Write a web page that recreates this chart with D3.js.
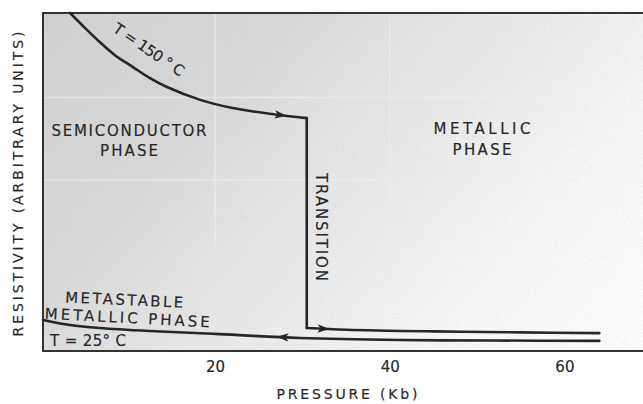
<!DOCTYPE html>
<html><head><meta charset="utf-8">
<script src="https://cdn.jsdelivr.net/npm/d3@7"></script>
<style>
html,body{margin:0;padding:0;background:#fff;}
svg{display:block;}
text{font-family:"DejaVu Sans","Open Sans",sans-serif;fill:#262626;stroke:#262626;stroke-width:0.15px;}
</style></head>
<body><div id="chart"></div>
<script>
// ---- data (pressure in Kb, resistivity in arbitrary units 0..100) ----
const hotP = [3.4, 5.1, 6.8, 8.5, 10.6, 12.5, 14.5, 18.3, 22.0, 27.4, 30.5];
const hotR = [100, 95.6, 91.4, 87.6, 84.0, 80.8, 78.1, 74.3, 71.9, 69.8, 68.9];
const transP = [30.5, 30.5];
const transR = [68.9, 6.8];
const metUpP = [30.5, 35, 45, 55, 64];
const metUpR = [6.8, 6.3, 5.8, 5.5, 5.3];
const metDownP = [0.3, 3.4, 6.8, 12.5, 20.5, 29.7, 41.1, 52, 64];
const metDownR = [9.2, 7.7, 6.8, 5.9, 5.0, 3.85, 3.25, 3.1, 3.0];
const arrowP = [28.2, 33.1, 27.05];
const arrowDir = [1, 1, -1];
const xTicks = [20, 40, 60];
const gridP = [20, 40];
const gridR = [75, 50.5];

const W = 643, H = 404;
const m = {left: 43, top: 13, right: 0, bottom: 53};
const svg = d3.select("#chart").append("svg").attr("width", W).attr("height", H);

const x = d3.scaleLinear().domain([0.3, 69]).range([m.left, W - m.right]);
const y = d3.scaleLinear().domain([0, 100]).range([H - m.bottom, m.top]);

const x0 = x.range()[0], x1 = x.range()[1], y0 = y.range()[1], y1 = y.range()[0];

const defs = svg.append("defs");
const grad = defs.append("linearGradient").attr("id", "bg").attr("gradientUnits", "userSpaceOnUse")
  .attr("x1", x0).attr("y1", y0).attr("x2", x0 + 470).attr("y2", y0 + 420);
[[0, "#d2d2d2"], [0.3, "#d9d9d9"], [0.55, "#e9e9e9"], [0.8, "#f7f7f7"], [1, "#fdfdfd"]]
  .forEach(([o, c]) => grad.append("stop").attr("offset", o).attr("stop-color", c));
const f = defs.append("filter").attr("id", "noise").attr("x", 0).attr("y", 0).attr("width", 1).attr("height", 1);
f.append("feTurbulence").attr("type", "fractalNoise").attr("baseFrequency", 1.1).attr("numOctaves", 2).attr("seed", 3).attr("result", "t");
f.append("feColorMatrix").attr("in", "t").attr("type", "matrix")
  .attr("values", "0 0 0 0 0.45  0 0 0 0 0.45  0 0 0 0 0.45  0 0 0 -1.6 1.0");

svg.append("rect").attr("x", x0).attr("y", y0).attr("width", x1 - x0).attr("height", y1 - y0)
  .attr("fill", "url(#bg)");
svg.append("rect").attr("x", x0).attr("y", y0).attr("width", x1 - x0).attr("height", y1 - y0)
  .attr("filter", "url(#noise)").attr("opacity", 0.22);

// faint grid seams
svg.selectAll(".gx").data(gridP).join("line")
  .attr("x1", d => x(d)).attr("x2", d => x(d)).attr("y1", y0).attr("y2", y(30))
  .attr("stroke", "#efefef").attr("stroke-width", 1.5).attr("opacity", 0.6);
svg.selectAll(".gy").data(gridR).join("line")
  .attr("x1", x0).attr("x2", x(62)).attr("y1", d => y(d)).attr("y2", d => y(d))
  .attr("stroke", "#efefef").attr("stroke-width", 1.5).attr("opacity", 0.6);

// frame: left, top, bottom
const frame = d3.path();
frame.moveTo(x1, y0); frame.lineTo(x0, y0); frame.lineTo(x0, y1); frame.lineTo(x1, y1);
svg.append("path").attr("d", frame.toString()).attr("fill", "none")
  .attr("stroke", "#333").attr("stroke-width", 2);

// axis tick labels
const xAxis = d3.axisBottom(x).tickValues(xTicks).tickSize(0).tickPadding(10).tickFormat(d3.format("d"));
const gx = svg.append("g").attr("transform", `translate(0,${y1})`).call(xAxis);
gx.select(".domain").remove();
gx.selectAll("text").attr("font-size", 15).attr("fill", "#262626")
  .style("font-family", '"DejaVu Sans","Open Sans",sans-serif');

// curves
const lineStyle = s => s.attr("fill", "none").attr("stroke", "#262626").attr("stroke-width", 2.6)
  .attr("stroke-linejoin", "round").attr("stroke-linecap", "round");
const mk = (P, R) => P.map((p, i) => [p, R[i]]);
const line = d3.line().x(d => x(d[0])).y(d => y(d[1])).curve(d3.curveCatmullRom.alpha(0.5));
const lineL = d3.line().x(d => x(d[0])).y(d => y(d[1]));
svg.append("path").attr("d", line(mk(hotP, hotR))).call(lineStyle);
svg.append("path").attr("d", lineL(mk(transP, transR))).call(lineStyle);
svg.append("path").attr("d", line(mk(metUpP, metUpR))).call(lineStyle);
svg.append("path").attr("d", line(mk(metDownP, metDownR))).call(lineStyle);

// arrows
function interp(P, R, p) {
  for (let i = 0; i < P.length - 1; i++) {
    const a = Math.min(P[i], P[i + 1]), b = Math.max(P[i], P[i + 1]);
    if (p >= a && p <= b) { const t = (p - P[i]) / (P[i + 1] - P[i]); return R[i] + t * (R[i + 1] - R[i]); }
  }
  return R[R.length - 1];
}
const arrowSets = [[hotP, hotR], [metUpP, metUpR], [metDownP, metDownR]];
arrowSets.forEach(([P, R], i) => {
  const p = arrowP[i], dir = arrowDir[i];
  const tx = x(p), ty = y(interp(P, R, p));
  const bx = x(p - dir * 1.2), by = y(interp(P, R, p - dir * 1.2));
  const ang = Math.atan2(ty - by, tx - bx) * 180 / Math.PI;
  svg.append("path").attr("d", "M0,0 L-12,-4.2 L-9,0 L-12,4.2 Z")
    .attr("transform", `translate(${tx},${ty}) rotate(${ang})`).attr("fill", "#262626");
});

// labels
const lab = (t, px, py, opts = {}) => {
  const el = svg.append("text").attr("x", px).attr("y", py).text(t)
    .attr("font-size", opts.size || 15).attr("text-anchor", opts.anchor || "middle");
  if (opts.len) el.attr("textLength", opts.len).attr("lengthAdjust", "spacing");
  if (opts.rot !== undefined) el.attr("transform", `rotate(${opts.rot},${px},${py})`);
  return el;
};
lab("T = 150 ° C", 146, 54, {rot: 34, len: 82, size: 15});
lab("SEMICONDUCTOR", 129, 136, {len: 155});
lab("PHASE", 129, 156, {len: 58});
lab("METALLIC", 482, 134, {len: 97});
lab("PHASE", 482, 155, {len: 59});
lab("TRANSITION", 316, 227, {rot: 90, len: 108});
lab("METASTABLE", 124, 305, {rot: 2.5, len: 118});
lab("METALLIC PHASE", 127, 323, {rot: 3, len: 165});
lab("T = 25° C", 88, 346, {len: 76});
lab("RESISTIVITY  (ARBITRARY  UNITS)", 23, 184, {rot: -90, len: 305, size: 14});
lab("PRESSURE  (Kb)", 347, 399, {len: 141, size: 14});
</script>
</body></html>
